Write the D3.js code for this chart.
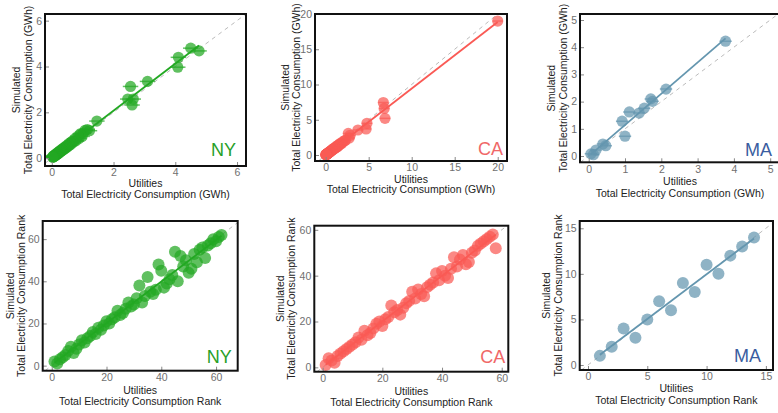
<!DOCTYPE html>
<html><head><meta charset="utf-8">
<script src="https://cdn.jsdelivr.net/npm/d3@7"></script>
<style>
body{margin:0;background:#fff;}
text{font-family:"Liberation Sans",Arial,Helvetica,sans-serif;}
</style>
</head><body>
<svg id="c" width="778" height="413"></svg>
<script>
// ---------- DATA ----------
// NY energy (GWh): utilities vs simulated
const nyEnergyUtil = [4.50,4.77,4.10,4.08,3.10,2.55,2.46,2.64,2.60,1.46,
  1.22,1.15,1.08,1.02,0.98,0.92,0.88,0.85,
  0.78,0.74,0.70,0.66,0.63,0.60,0.57,0.55,0.52,0.50,0.48,0.46,0.44,0.42,0.40,0.38,0.36,0.34,0.32,0.30,
  0.29,0.27,0.26,0.24,0.23,0.21,0.20,0.19,0.17,0.16,0.15,0.14,0.13,0.12,0.11,0.10,0.09,0.08,0.07,0.06,
  0.05,0.05,0.04,0.03];
const nyEnergySim = [4.80,4.68,4.40,3.97,3.35,3.13,2.58,2.58,2.32,1.62,
  1.20,1.25,1.22,1.10,0.95,1.06,0.86,0.96,
  0.76,0.84,0.70,0.74,0.62,0.68,0.56,0.63,0.53,0.49,0.55,0.45,0.50,0.41,0.46,0.38,0.42,0.33,0.37,0.30,
  0.35,0.27,0.31,0.24,0.28,0.20,0.25,0.18,0.22,0.16,0.19,0.14,0.17,0.12,0.15,0.10,0.13,0.08,0.11,0.07,
  0.09,0.06,0.05,0.04];
// CA energy (GWh)
const caEnergyUtil = [20.0,6.70,6.80,6.90,4.80,4.70,3.75,2.63,2.85,2.74,
  2.30,2.20,2.00,1.90,1.80,1.70,1.60,1.50,1.45,1.40,1.30,1.25,1.20,1.10,1.05,1.00,0.95,0.90,0.85,0.80,
  0.75,0.70,0.65,0.60,0.55,0.50,0.47,0.44,0.40,0.37,0.34,0.30,0.28,0.25,0.22,0.20,0.18,0.16,0.14,0.12,
  0.10,0.09,0.08,0.06,0.05,0.04,0.03,0.02];
const caEnergySim = [19.0,7.45,6.60,5.20,4.50,3.70,3.55,3.06,2.80,2.40,
  2.10,2.00,1.90,1.70,1.60,1.65,1.50,1.35,1.40,1.20,1.25,1.10,1.15,1.00,0.95,0.98,0.85,0.90,0.80,0.75,
  0.70,0.68,0.60,0.58,0.50,0.48,0.45,0.40,0.38,0.35,0.30,0.30,0.25,0.24,0.20,0.20,0.17,0.15,0.13,0.12,
  0.10,0.08,0.08,0.06,0.05,0.04,0.03,0.02];
// MA energy (GWh)
const maEnergyUtil = [3.77,2.13,1.71,1.76,1.53,1.39,1.12,0.92,1.00,0.39,0.47,0.20,0.13,0.06];
const maEnergySim  = [4.22,2.46,2.10,2.01,1.76,1.58,1.62,1.28,0.73,0.44,0.38,0.22,0.05,0.08];

// Ranks
const nyRankUtil = [1,2,3,4,5,6,7,8,9,10,11,12,13,14,15,16,17,18,19,20,21,22,23,24,25,26,27,28,29,30,
  31,32,33,34,35,36,37,38,39,40,41,42,43,44,45,46,47,48,49,50,51,52,53,54,55,56,57,58,59,60,61,62];
const nyRankSim  = [2,1,3,4,5,7,9,6,8,10,12,11,13,14,16,15,18,17,19,21,20,22,23,26,24,25,27,30,28,29,
  32,38,30,33,42,35,34,36,48,45,37,39,41,43,54,40,52,47,50,44,46,53,49,55,56,51,57,58,60,59,61,62];
const caRankUtil = [1,2,3,4,5,6,7,8,9,10,11,12,13,14,15,16,17,18,19,20,21,22,23,24,25,26,27,28,29,30,
  31,32,33,34,35,36,37,38,39,40,41,42,43,44,45,46,47,48,49,50,51,52,53,54,55,56,57,58];
const caRankSim  = [1,4,3,2,5,6,7,8,9,10,11,13,12,16,14,15,17,19,20,18,21,22,27,24,25,23,26,28,29,33,
  30,34,32,31,35,36,37,41,38,42,40,39,43,48,44,47,49,45,46,50,51,53,54,55,56,57,58,52];
const maRankUtil = [1,2,3,4,5,6,7,8,9,10,11,12,13,14];
const maRankSim  = [1,2,4,3,5,7,6,9,8,11,10,12,13,14];

// Tick labels
const nyEnergyTicks = [0,2,4,6];
const caEnergyTicks = [0,5,10,15,20];
const maEnergyTicks = [0,1,2,3,4,5];
const nyRankTicks = [0,20,40,60];
const caRankTicks = [0,20,40,60];
const maRankTicks = [0,5,10,15];

const states = ["NY","CA","MA"];
const energyLabel = "Total Electricity Consumption (GWh)";
const rankLabel = "Total Electricity Consumption Rank";

// ---------- STYLE / LAYOUT ----------
const colors = {NY:"#22a822", CA:"#fa5a55", MA:"#6496af"};
const labelColors = {NY:"#28a028", CA:"#f06868", MA:"#3a5da0"};

const panels = [
 {st:"NY", xs:nyEnergyUtil, ys:nyEnergySim, ticks:nyEnergyTicks, lab:energyLabel, err:0.25, r:5.6,
  box:[45,246,14,166], xd:[-0.22,6.29], yd:[-0.34,6.29], stOff:[10,10], ylx:[16.5,28], xly:[183,194]},
 {st:"CA", xs:caEnergyUtil, ys:caEnergySim, ticks:caEnergyTicks, lab:energyLabel, err:0.6, r:5.6,
  box:[315,507,14,161], xd:[-1.24,21.08], yd:[-0.85,20.0], stOff:[4,6], ylx:[285,296], xly:[179,189.5]},
 {st:"MA", xs:maEnergyUtil, ys:maEnergySim, ticks:maEnergyTicks, lab:energyLabel, err:0.17, r:5.6,
  box:[580,780,14,162.3], xd:[-0.24,5.27], yd:[-0.23,5.22], stOff:[8,6.6], ylx:[551,563], xly:[181.7,193.3]},
 {st:"NY", xs:nyRankUtil, ys:nyRankSim, ticks:nyRankTicks, lab:rankLabel, err:0, r:6,
  box:[42.7,237.7,221,370.7], xd:[-3.3,67.9], yd:[-2.4,68.6], stOff:[6,7.4], ylx:[10,21.5], xly:[390,401.7]},
 {st:"CA", xs:caRankUtil, ys:caRankSim, ticks:caRankTicks, lab:rankLabel, err:0, r:6,
  box:[314.3,508.3,225.7,371.7], xd:[-2.8,62.2], yd:[-1.9,61.8], stOff:[3,8.4], ylx:[280,291.7], xly:[391,402.3]},
 {st:"MA", xs:maRankUtil, ys:maRankSim, ticks:maRankTicks, lab:rankLabel, err:0, r:6,
  box:[579.7,773,221,370], xd:[-0.7,15.6], yd:[-0.55,15.8], stOff:[12,7.7], ylx:[546,558], xly:[388.3,400]}
];

const svg = d3.select("#c");
const defs = svg.append("defs");

function linfit(xs, ys){
  const mx = d3.mean(xs), my = d3.mean(ys);
  let sxy=0, sxx=0;
  xs.forEach((x,i)=>{ sxy += (x-mx)*(ys[i]-my); sxx += (x-mx)*(x-mx); });
  const b = sxy/sxx; return {b, a: my - b*mx};
}

panels.forEach((p, idx) => {
  const [x0,x1,y0,y1] = p.box;
  const x = d3.scaleLinear().domain(p.xd).range([x0,x1]);
  const y = d3.scaleLinear().domain(p.yd).range([y1,y0]);
  const col = colors[p.st];
  const g = svg.append("g");

  const cid = "clip"+idx;
  defs.append("clipPath").attr("id",cid).append("rect")
    .attr("x",x0).attr("y",y0).attr("width",x1-x0).attr("height",y1-y0);
  const plot = g.append("g").attr("clip-path",`url(#${cid})`);

  // y = x reference
  const lo = Math.max(p.xd[0],p.yd[0]), hi = Math.min(p.xd[1],p.yd[1]);
  plot.append("line")
    .attr("x1",x(lo)).attr("y1",y(lo)).attr("x2",x(hi)).attr("y2",y(hi))
    .attr("stroke","#bbbbbb").attr("stroke-width",1).attr("stroke-dasharray","4,4");

  // fit line
  const f = linfit(p.xs, p.ys);
  const xmn = d3.min(p.xs), xmx = d3.max(p.xs);
  plot.append("line")
    .attr("x1",x(xmn)).attr("y1",y(f.a+f.b*xmn)).attr("x2",x(xmx)).attr("y2",y(f.a+f.b*xmx))
    .attr("stroke",col).attr("stroke-width",1.8);

  const pts = p.xs.map((v,i)=>({u:v, s:p.ys[i]}));
  if (p.err > 0) {
    plot.selectAll(".eb").data(pts).enter().append("line")
      .attr("x1",d=>x(d.u-p.err)).attr("x2",d=>x(d.u+p.err))
      .attr("y1",d=>y(d.s)).attr("y2",d=>y(d.s))
      .attr("stroke",col).attr("stroke-opacity",0.7).attr("stroke-width",1.5);
  }
  plot.selectAll(".pt").data(pts).enter().append("circle")
    .attr("cx",d=>x(d.u)).attr("cy",d=>y(d.s)).attr("r",p.r)
    .attr("fill",col).attr("fill-opacity",0.72);

  // axes (inward ticks)
  const ax = g.append("g").attr("transform",`translate(0,${y1})`)
    .call(d3.axisBottom(x).tickValues(p.ticks).tickSize(-4).tickPadding(3).tickFormat(d3.format("d")));
  const ay = g.append("g").attr("transform",`translate(${x0},0)`)
    .call(d3.axisLeft(y).tickValues(p.ticks).tickSize(-4).tickPadding(3).tickFormat(d3.format("d")));
  [ax,ay].forEach(a=>{
    a.select(".domain").remove();
    a.selectAll(".tick line").attr("stroke","#888");
    a.selectAll(".tick text").attr("fill","#707070").style("font-size","10.5px")
      .style("font-family",'"Liberation Sans",Arial,sans-serif');
  });

  // frame
  g.append("rect").attr("x",x0).attr("y",y0).attr("width",x1-x0).attr("height",y1-y0)
    .attr("fill","none").attr("stroke","#111").attr("stroke-width",2);

  // state label
  g.append("text").attr("x",x1-p.stOff[0]).attr("y",y1-p.stOff[1])
    .attr("text-anchor","end").attr("fill",labelColors[p.st])
    .style("font-size","18px").text(p.st);

  // x label
  const cx = (x0+x1)/2;
  g.append("text").attr("x",cx).attr("y",p.xly[0]).attr("dy","0.35em").attr("text-anchor","middle")
    .attr("fill","#222").style("font-size","10.5px").text("Utilities");
  g.append("text").attr("x",cx).attr("y",p.xly[1]).attr("dy","0.35em").attr("text-anchor","middle")
    .attr("fill","#222").style("font-size","10.5px").text(p.lab);

  // y label
  const cy = (y0+y1)/2;
  g.append("text").attr("transform",`translate(${p.ylx[0]},${cy}) rotate(-90)`).attr("dy","0.35em")
    .attr("text-anchor","middle").attr("fill","#222").style("font-size","10.5px").text("Simulated");
  g.append("text").attr("transform",`translate(${p.ylx[1]},${cy}) rotate(-90)`).attr("dy","0.35em")
    .attr("text-anchor","middle").attr("fill","#222").style("font-size","10.5px").text(p.lab);
});
</script>
</body></html>
